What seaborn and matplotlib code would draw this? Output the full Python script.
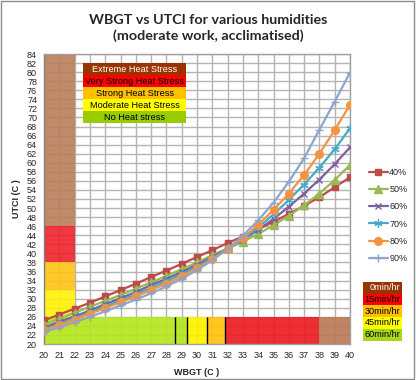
import numpy as np
import pandas as pd
import seaborn as sns
import matplotlib.pyplot as plt
from matplotlib.patches import Rectangle

# data
wbgt = list(range(20, 41))
utci_40 = [25.2, 26.5, 27.8, 29.1, 30.5, 31.9, 33.3, 34.8, 36.2, 37.7, 39.2,
           40.7, 42.3, 43.7, 45.3, 47.0, 48.7, 50.5, 52.4, 54.6, 56.8]
utci_50 = [24.3, 25.6, 26.9, 28.2, 29.5, 30.8, 32.2, 33.6, 35.0, 36.5, 38.0,
           39.6, 41.1, 42.6, 44.3, 46.2, 48.3, 50.6, 53.2, 56.2, 59.5]
utci_60 = [23.6, 24.9, 26.1, 27.4, 28.8, 30.1, 31.5, 33.0, 34.4, 35.9, 37.5,
           39.2, 41.0, 43.0, 45.2, 47.6, 50.3, 53.2, 56.3, 59.7, 63.4]
utci_70 = [23.3, 24.5, 25.7, 27.0, 28.3, 29.6, 31.0, 32.4, 33.9, 35.4, 37.1,
           38.9, 40.9, 43.1, 45.7, 48.6, 51.8, 55.2, 58.9, 63.0, 67.6]
utci_80 = [23.0, 24.2, 25.4, 26.7, 27.9, 29.2, 30.5, 31.9, 33.3, 34.9, 36.7,
           38.7, 40.9, 43.4, 46.3, 49.6, 53.2, 57.3, 62.0, 67.2, 72.8]
utci_90 = [22.6, 23.7, 24.8, 26.0, 27.2, 28.5, 29.8, 31.2, 32.7, 34.4, 36.3,
           38.5, 41.0, 43.9, 47.3, 51.2, 55.8, 61.0, 67.3, 73.5, 79.9]
humidity_labels = ['40%', '50%', '60%', '70%', '80%', '90%']

# work/rest bands along the WBGT axis (bottom strip)
band_edges = [20, 29.36, 30.67, 31.85, 38.0, 40]
band_colors = ['#b5e61d', '#fff200', '#ffc20e', '#ed1c24', '#b97a57']
band_marks = [28.57, 29.36, 30.67, 31.85]
# heat stress bands along the UTCI axis (left strip)
col_edges = [26, 32, 38, 46, 84]
col_colors = ['#fff200', '#ffc20e', '#ed1c24', '#b97a57']

stress_labels = ['Extreme Heat Stress', 'Very Strong Heat Stress', 'Strong Heat Stress',
                 'Moderate Heat Stress', 'No Heat stress']
stress_colors = ['#993300', '#ff0000', '#ffc000', '#ffff00', '#99cc00']
rest_labels = ['0min/hr', '15min/hr', '30min/hr', '45min/hr', '60min/hr']
rest_colors = ['#993300', '#ff0000', '#ffc000', '#ffff00', '#a8d81e']

series = [utci_40, utci_50, utci_60, utci_70, utci_80, utci_90]
line_colors = ['#be4b48', '#98b954', '#7d60a0', '#46aac5', '#f69240', '#8ea5cb']
markers = ['s', '^', 'x', (6, 2, 0), 'o', '+']
msizes = [5, 5.5, 5, 6, 5.5, 6]
mews = [1.0, 1.0, 1.0, 0.9, 1.0, 1.0]

sns.set_theme(style='white')
plt.rcParams['font.family'] = ['Liberation Sans', 'DejaVu Sans']

W, H = 416, 380
fig = plt.figure(figsize=(W / 100, H / 100), dpi=100)
ax = fig.add_axes([44 / W, 1 - 344 / H, 306 / W, 290 / H])

# colour bands
ax.bar(band_edges[:-1], height=6, width=np.diff(band_edges), bottom=20,
       align='edge', color=band_colors, alpha=0.92, zorder=1, linewidth=0)
ax.bar([20] * len(col_colors), height=np.diff(col_edges), width=2, bottom=col_edges[:-1],
       align='edge', color=col_colors, alpha=0.88, zorder=1, linewidth=0)
ax.vlines(band_marks, 20, 26, colors='black', linewidth=1.0, zorder=2)

for vals, lab, c, m, ms, mw in zip(series, humidity_labels, line_colors, markers, msizes, mews):
    sns.lineplot(x=wbgt, y=vals, ax=ax, color=c, marker=m, markersize=ms,
                 markeredgecolor=c, markerfacecolor=c, markeredgewidth=mw,
                 linewidth=1.6, label=lab, zorder=3)

ax.set_xlim(20, 40)
ax.set_ylim(20, 84)
ax.set_xticks(range(20, 41))
ax.set_yticks(range(20, 85, 2))
ax.grid(True, color='#b4b4b4', linewidth=1.0, zorder=0)
ax.set_axisbelow(True)
for s in ax.spines.values():
    s.set_color('#a0a0a0')
    s.set_linewidth(1.0)
ax.spines['left'].set_color('#808080')
ax.tick_params(axis='y', labelsize=6.5, length=3, width=0.8, color='#808080', pad=2)
ax.tick_params(axis='x', labelsize=6.5, length=0, pad=5)
ax.set_xlabel('WBGT (C )', fontsize=6.5, fontweight='bold', labelpad=6)
ax.set_ylabel('UTCI (C )', fontsize=6.5, fontweight='bold', labelpad=4)

fig.text(208 / W, 1 - 28 / H, 'WBGT vs UTCI for various humidities\n(moderate work, acclimatised)',
         ha='center', va='center', fontsize=10.3, fontweight='bold',
         family=['Lato', 'DejaVu Sans'], linespacing=1.25)

ax.legend(loc='center left', bbox_to_anchor=(364 / W, 1 - 215.5 / H),
          bbox_transform=fig.transFigure, frameon=False, fontsize=6.5,
          handlelength=2.2, handletextpad=0.1, labelspacing=0.9, borderpad=0)


def text_boxes(labels, colors, x0, x1, y0, rh, align):
    for i, (lab, c) in enumerate(zip(labels, colors)):
        top = y0 + i * rh
        fig.add_artist(Rectangle((x0 / W, 1 - (top + rh) / H), (x1 - x0) / W, rh / H,
                                 transform=fig.transFigure, facecolor=c,
                                 edgecolor='none', zorder=5))
        tc = 'white' if i == 0 else 'black'
        tx = (x0 + x1) / 2 if align == 'center' else x1 - 1.5
        fig.text(tx / W, 1 - (top + rh / 2) / H, lab, ha=align, va='center',
                 fontsize=6.6, color=tc, zorder=6)


text_boxes(stress_labels, stress_colors, 83, 186, 63, 12, 'center')
text_boxes(rest_labels, rest_colors, 363, 402, 282, 11.7, 'right')

fig.add_artist(Rectangle((0.002, 0.003), 0.994, 0.994, transform=fig.transFigure,
                         facecolor='none', edgecolor='#8c8c8c', linewidth=1.0))

fig.savefig('out.png', dpi=100)
